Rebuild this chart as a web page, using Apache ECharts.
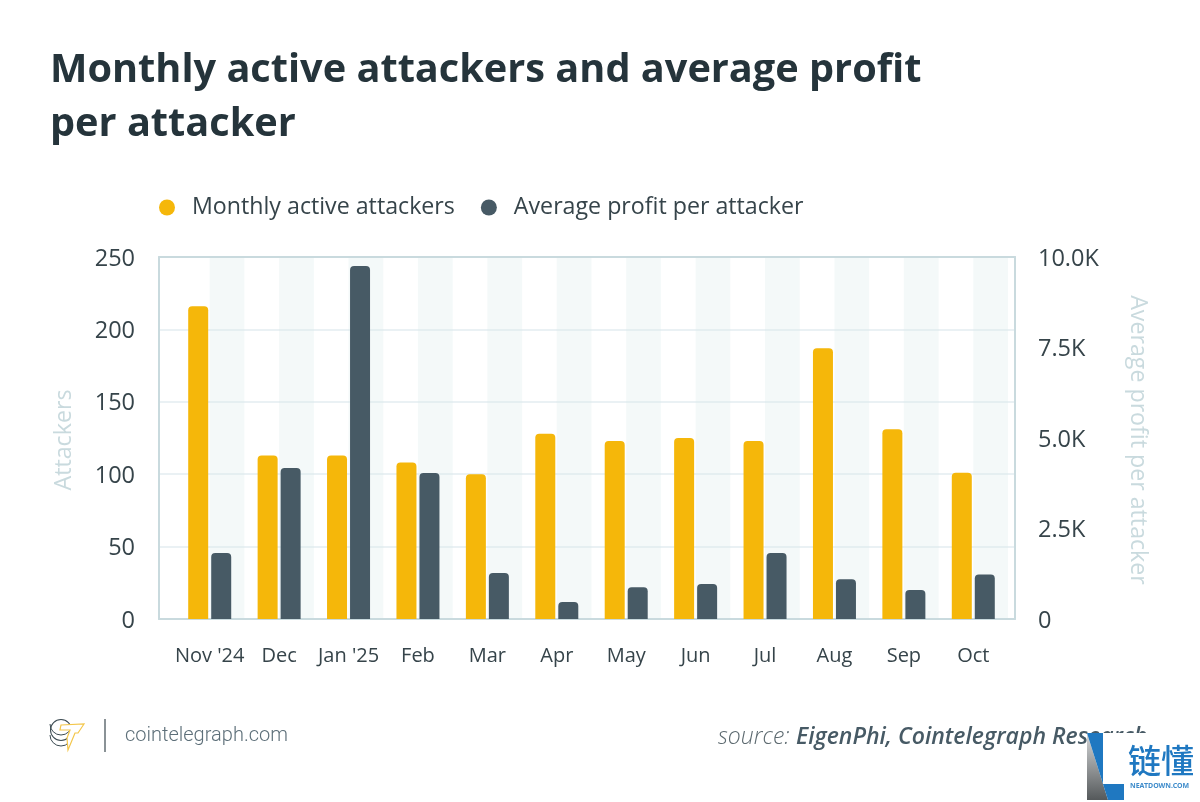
<!DOCTYPE html>
<html>
<head>
<meta charset="utf-8">
<title>Monthly active attackers</title>
<script src="https://cdn.jsdelivr.net/npm/echarts@6/dist/echarts.min.js"></script>
<style>
html, body { margin: 0; padding: 0; background: #fff; }
#main { width: 1200px; height: 802px; }
</style>
</head>
<body>
<div id="main"></div>
<script>
var categories = ["Nov '24", 'Dec', "Jan '25", 'Feb', 'Mar', 'Apr', 'May', 'Jun', 'Jul', 'Aug', 'Sep', 'Oct'];
var attackers = [216, 113, 113, 108, 100, 128, 123, 125, 123, 187, 131, 101];
var avgProfit = [1820, 4170, 9750, 4030, 1270, 470, 880, 970, 1820, 1100, 800, 1230];

var font = '"Open Sans", sans-serif';
var dark = '#25343b';
var labelColor = '#36444a';
var axisGrey = '#c9dade';

// two half-width slots per month, the stripes are every second slot
var stripeSlots = [];
for (var i = 0; i < categories.length; i++) {
    stripeSlots.push(categories[i] + ' a');
    stripeSlots.push(categories[i] + ' b');
}

var chart = echarts.init(document.getElementById('main'));

var option = {
    backgroundColor: '#fff',
    animation: false,
    title: {
        text: 'Monthly active attackers and average profit\nper attacker',
        left: 50,
        top: 44,
        padding: 0,
        textStyle: {fontFamily: font, fontSize: 39.7, fontWeight: 700, color: dark, lineHeight: 54}
    },
    legend: {
        left: 154,
        top: 191,
        icon: 'circle',
        itemWidth: 16,
        itemHeight: 16,
        itemGap: 26,
        data: ['Monthly active attackers', 'Average profit per attacker'],
        textStyle: {fontFamily: font, fontSize: 23.2, color: labelColor, padding: [0, 0, 0, 12]}
    },
    grid: [
        // frame and gridlines
        {left: 159, right: 185, top: 257, height: 362, show: false},
        // bars and stripes sit slightly inset from the frame
        {left: 175, right: 192, top: 257, height: 362, show: false},
        // tick labels sit 2px below their gridlines
        {left: 159, right: 185, top: 259, height: 362, show: false}
    ],
    xAxis: [
        {
            gridIndex: 0, type: 'category', data: categories, position: 'bottom',
            axisLine: {show: true, lineStyle: {color: axisGrey, width: 2}},
            axisTick: {show: false}, axisLabel: {show: false}
        },
        {
            gridIndex: 0, type: 'category', data: categories, position: 'top',
            axisLine: {show: true, onZero: false, lineStyle: {color: axisGrey, width: 2}},
            axisTick: {show: false}, axisLabel: {show: false}
        },
        {
            gridIndex: 1, type: 'category', data: stripeSlots, position: 'bottom',
            axisLine: {show: false}, axisTick: {show: false}, axisLabel: {show: false},
            splitLine: {show: false},
            splitArea: {show: true, interval: 0, areaStyle: {color: ['rgba(255,255,255,0)', 'rgba(215,232,235,0.28)']}}
        },
        {
            gridIndex: 1, type: 'category', data: categories, position: 'bottom',
            axisLine: {show: false}, axisTick: {show: false},
            axisLabel: {interval: 0, margin: 27, fontFamily: font, fontSize: 20, color: labelColor}
        },
        {gridIndex: 2, type: 'category', data: categories, show: false}
    ],
    yAxis: [
        {
            gridIndex: 0, type: 'value', min: 0, max: 250, interval: 50, position: 'left',
            axisLine: {show: true, lineStyle: {color: axisGrey, width: 2}},
            axisTick: {show: false}, axisLabel: {show: false},
            splitLine: {show: true, lineStyle: {color: '#e3edf0', width: 1.5}}
        },
        {
            gridIndex: 0, type: 'value', min: 0, max: 10000, interval: 2500, position: 'right',
            axisLine: {show: true, lineStyle: {color: axisGrey, width: 2}},
            axisTick: {show: false}, axisLabel: {show: false},
            splitLine: {show: false}
        },
        {gridIndex: 1, type: 'value', min: 0, max: 250, interval: 50, show: false},
        {gridIndex: 1, type: 'value', min: 0, max: 10000, interval: 2500, show: false},
        {
            gridIndex: 2, type: 'value', min: 0, max: 250, interval: 50, position: 'left',
            name: 'Attackers', nameLocation: 'middle', nameGap: 83,
            nameTextStyle: {fontFamily: font, fontSize: 23.2, color: axisGrey},
            axisLine: {show: false}, axisTick: {show: false}, splitLine: {show: false},
            axisLabel: {margin: 24, fontFamily: font, fontSize: 23.5, color: labelColor}
        },
        {
            gridIndex: 2, type: 'value', min: 0, max: 10000, interval: 2500, position: 'right',
            name: 'Average profit per attacker', nameLocation: 'middle', nameGap: 111, nameRotate: -90,
            nameTextStyle: {fontFamily: font, fontSize: 23.2, color: axisGrey},
            axisLine: {show: false}, axisTick: {show: false}, splitLine: {show: false},
            axisLabel: {
                margin: 23, fontFamily: font, fontSize: 23.5, color: labelColor,
                formatter: function (v) { return v === 0 ? '0' : (v / 1000).toFixed(1) + 'K'; }
            }
        }
    ],
    series: [
        {
            name: 'Monthly active attackers', type: 'bar', xAxisIndex: 3, yAxisIndex: 2,
            data: attackers, barWidth: 20, barGap: '15%',
            itemStyle: {color: '#f5b70a', borderRadius: [4, 4, 0, 0]}
        },
        {
            name: 'Average profit per attacker', type: 'bar', xAxisIndex: 3, yAxisIndex: 3,
            data: avgProfit, barWidth: 20, barGap: '15%',
            itemStyle: {color: '#475a65', borderRadius: [4, 4, 0, 0]}
        }
    ],
    graphic: [
        // coin stack logo
        {type: 'ring', shape: {cx: 61, cy: 730, r: 11, r0: 10}, style: {fill: '#3c4b52'}},
        {type: 'arc', shape: {cx: 61, cy: 724, r: 11, startAngle: 0, endAngle: Math.PI}, style: {stroke: '#3c4b52', fill: 'none', lineWidth: 1}},
        {type: 'arc', shape: {cx: 61, cy: 735, r: 11, startAngle: 0, endAngle: Math.PI}, style: {stroke: '#3c4b52', fill: 'none', lineWidth: 1}},
        {
            type: 'polygon',
            shape: {points: [[61, 725], [84, 724], [78, 733], [75, 733], [68, 750], [67, 738], [70, 730], [60, 730]]},
            style: {fill: '#fff', stroke: '#f3c64a', lineWidth: 1.2}
        },
        {type: 'rect', shape: {x: 104, y: 719, width: 2, height: 33}, style: {fill: '#8a9296'}},
        {
            type: 'text', left: 125, top: 726,
            style: {text: 'cointelegraph.com', font: '300 20px Roboto, sans-serif', fill: '#5d6f79'}
        },
        // source line, the watermark covers its end as in the picture
        {
            type: 'text', left: 718, top: 726,
            style: {text: 'source:', font: 'italic 300 23px "Open Sans", sans-serif', fill: '#5d6a70'}
        },
        {
            type: 'text', left: 796, top: 726,
            style: {text: 'EigenPhi, Cointelegraph Research', font: 'italic 600 23px "Open Sans", sans-serif', fill: '#475a65'}
        },
        // watermark
        {type: 'rect', shape: {x: 1087, y: 733, width: 113, height: 69}, style: {fill: '#fff'}},
        {
            type: 'polygon',
            shape: {points: [[1087, 733], [1087, 800], [1108, 800]]},
            style: {
                fill: new echarts.graphic.LinearGradient(0, 0, 0, 1, [
                    {offset: 0, color: '#d5d7d8'},
                    {offset: 1, color: '#55595b'}
                ])
            }
        },
        {type: 'polygon', shape: {points: [[1087, 733], [1103, 733], [1103, 784], [1124, 784], [1124, 800], [1108, 800]]}, style: {fill: '#1f78c1'}},
        {
            type: 'text', left: 1128, top: 744,
            style: {text: '链懂', font: '500 33px "Noto Sans CJK SC", sans-serif', fill: '#1f78c1'}
        },
        {
            type: 'text', left: 1130, top: 782,
            style: {text: 'NEATDOWN.COM', font: '700 7px "Noto Sans", sans-serif', fill: '#3f8ccb', letterSpacing: 1.5}
        }
    ]
};

chart.setOption(option);
</script>
</body>
</html>
